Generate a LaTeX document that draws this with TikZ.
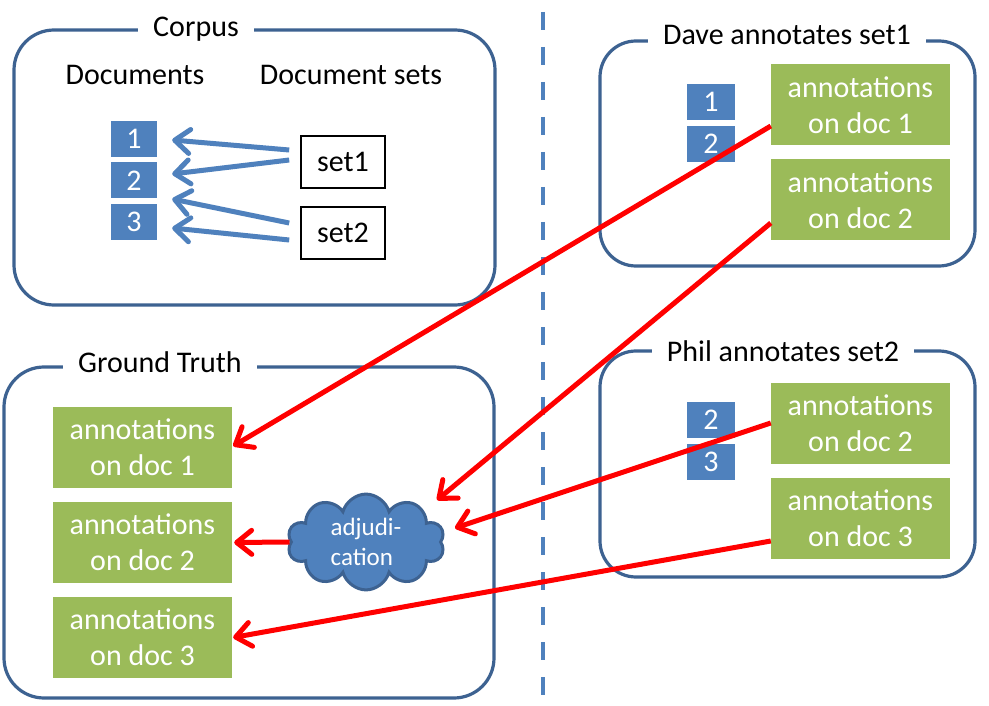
\documentclass[tikz,border=0pt]{standalone}
\usepackage{fontspec}
\setmainfont{Carlito}
\usepackage{tikz}
\usetikzlibrary{shapes,shapes.symbols,arrows.meta}

\definecolor{docblue}{RGB}{79,129,189}
\definecolor{lineblue}{RGB}{61,98,145}
\definecolor{annogreen}{RGB}{155,187,89}

\tikzset{
  group/.style={draw=lineblue, line width=3.2pt, rounded corners=40pt, inner sep=0pt},
  grouptitle/.style={fill=white, inner xsep=15pt, inner ysep=3pt, anchor=base},
  doc/.style={fill=docblue, text=white, minimum width=46pt, minimum height=36pt, inner sep=0pt},
  docset/.style={draw=black, line width=1.6pt, fill=white, minimum width=84pt, minimum height=52pt, inner sep=0pt},
  anno/.style={fill=annogreen, text=white, align=center, minimum width=179pt, minimum height=81pt, inner sep=0pt},
  blueline/.style={draw=docblue, line width=5pt, -{Straight Barb[length=15pt,width=24pt,round]}},
  redline/.style={draw=red, line width=5pt, -{Straight Barb[length=15pt,width=24pt,round]}},
  divider/.style={draw=docblue, line width=4pt, dash pattern=on 18pt off 17pt},
}

\begin{document}
\begin{tikzpicture}[x=1pt, y=-1pt, font=\fontsize{30pt}{36pt}\selectfont]
\useasboundingbox (0,0) rectangle (989,706);
\fill[white] (0,0) rectangle (989,706);
\draw[divider] (543,12) -- (543,697);
%
% corpus
\node[group, minimum width=481pt, minimum height=275pt] (corpus) at (254.5,167.5) {};
\node[grouptitle] (corpustitle) at (196,37) {Corpus};
\node[anchor=base] (doclabel) at (135,85) {Documents};
\node[anchor=base] (setlabel) at (351,85) {Document sets};
\node[doc] (c1) at (134,139) {1};
\node[doc] (c2) at (134,180.5) {2};
\node[doc] (c3) at (134,222) {3};
\node[docset] (set1) at (343,162) {set1};
\node[docset] (set2) at (343,233) {set2};
\draw[blueline] ([xshift=-11pt,yshift=12pt]set1.west) -- ([xshift=15pt,yshift=-1pt]c1.east);
\draw[blueline] ([xshift=-11pt,yshift=2pt]set1.west) -- ([xshift=15pt,yshift=6.5pt]c2.east);
\draw[blueline] ([xshift=-11pt,yshift=10pt]set2.west) -- ([xshift=15pt,yshift=-18.5pt]c2.east);
\draw[blueline] ([xshift=-11pt,yshift=-7pt]set2.west) -- ([xshift=15pt,yshift=-6pt]c3.east);
%
% dave
\node[group, rounded corners=36pt, minimum width=375pt, minimum height=225pt] (dave) at (787.5,153.5) {};
\node[grouptitle] (davetitle) at (787,45) {Dave annotates set1};
\node[doc, minimum width=48pt] (d1) at (711,102) {1};
\node[doc, minimum width=48pt] (d2) at (711,144) {2};
\node[anno] (dave1) at (860.5,105) {annotations\\on doc 1};
\node[anno] (dave2) at (860.5,200) {annotations\\on doc 2};
%
% phil
\node[group, rounded corners=36pt, minimum width=375pt, minimum height=226pt] (phil) at (787.5,464) {};
\node[grouptitle] (philtitle) at (783,361) {Phil annotates set2};
\node[doc, minimum width=48pt] (p2) at (711,420) {2};
\node[doc, minimum width=48pt] (p3) at (711,462) {3};
\node[anno] (phil2) at (860.5,423) {annotations\\on doc 2};
\node[anno] (phil3) at (860.5,518) {annotations\\on doc 3};
%
% ground truth
\node[group, minimum width=490pt, minimum height=331pt] (truth) at (249,532.5) {};
\node[grouptitle] (truthtitle) at (160,372) {Ground Truth};
\node[anno] (gt1) at (142.5,447) {annotations\\on doc 1};
\node[anno] (gt2) at (142.5,542.5) {annotations\\on doc 2};
\node[anno] (gt3) at (142.5,637.5) {annotations\\on doc 3};
\node[cloud, cloud puffs=10, aspect=2, fill=docblue, draw=lineblue, line width=3pt,
  text=white, align=left, inner sep=0pt, minimum width=157pt, minimum height=80pt,
  font=\fontsize{25pt}{30pt}\selectfont] (adjud) at (366,542) {adjudi-\\cation};
\coordinate (adjin1) at (437,500);
\coordinate (adjin2) at (455,528);
%
\draw[redline] ([yshift=-21pt]dave1.west) -- ([xshift=1pt,yshift=1pt]gt1.east);
\draw[redline] ([yshift=-23pt]dave2.west) -- (adjin1);
\draw[redline] (phil2.west) -- (adjin2);
\draw[redline] ([yshift=-23pt]phil3.west) -- ([xshift=1pt]gt3.east);
\draw[redline] (adjud.west) -- ([xshift=2pt]gt2.east);
\end{tikzpicture}
\end{document}
